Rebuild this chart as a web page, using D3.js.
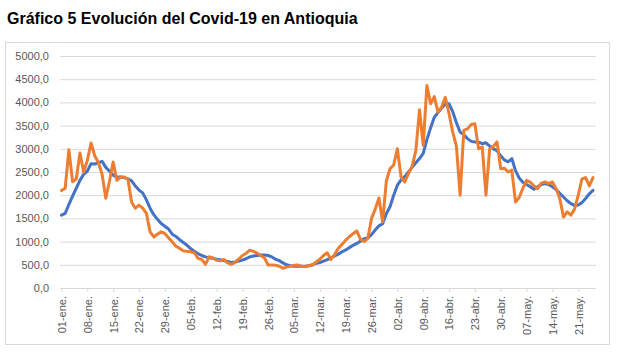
<!DOCTYPE html>
<html>
<head>
<meta charset="utf-8">
<script src="https://cdn.jsdelivr.net/npm/d3@7"></script>
<style>
  body { margin: 0; background: #fff; }
  svg { display: block; font-family: "Liberation Sans", Arial, sans-serif; }
</style>
</head>
<body>
<script>
// Daily series, Jan 1 to May 25 (one value per day)
const startDate = new Date(2021, 0, 1);

const promedio = [
  1570, 1610, 1800, 1980, 2150, 2320, 2450, 2520, 2680, 2670,
  2700, 2730, 2600, 2520, 2430, 2390, 2390, 2380, 2350, 2310,
  2200, 2110, 2050, 1900, 1720, 1580, 1480, 1390, 1330, 1270,
  1160, 1110, 1040, 980, 920, 850, 790, 740, 700, 670,
  650, 640, 620, 610, 590, 570, 550, 560, 580, 600,
  630, 670, 690, 700, 710, 710, 700, 670, 620, 590,
  540, 500, 480, 470, 470, 470, 470, 480, 500, 530,
  550, 580, 610, 650, 690, 730, 780, 820, 870, 920,
  960, 1010, 1060, 1080, 1150, 1250, 1340, 1385, 1600, 1750,
  2000, 2215, 2330, 2400, 2500, 2600, 2700, 2790, 2900, 3200,
  3450, 3680, 3780, 3880, 3960, 3970, 3800, 3560, 3360, 3300,
  3220, 3160, 3145, 3145, 3110, 3130, 3060, 3000, 2960, 2850,
  2760, 2720, 2790, 2530, 2370, 2280, 2230, 2180, 2130, 2180,
  2230, 2250, 2230, 2180, 2120, 2040, 1960, 1880, 1820, 1780,
  1790, 1840, 1930, 2030, 2105
];

const diarios = [
  2100, 2150, 2980, 2290, 2350, 2910, 2500, 2750, 3125, 2850,
  2700, 2450, 1935, 2300, 2715, 2320, 2390, 2390, 2340, 1850,
  1720, 1785, 1720, 1610, 1210, 1100, 1160, 1210, 1175, 1080,
  995, 900, 855, 800, 790, 780, 760, 640, 615, 510,
  675, 650, 600, 585, 615, 540, 510, 550, 620, 700,
  745, 815, 790, 750, 700, 645, 495, 495, 490, 470,
  425, 450, 470, 490, 495, 470, 460, 480, 495, 560,
  620, 700, 760, 615, 720, 855, 940, 1030, 1105, 1170,
  1230, 1050, 1000, 1070, 1500, 1700, 1940, 1425, 2300, 2570,
  2650, 3000, 2390, 2285, 2465, 2620, 2960, 3840, 3075, 4365,
  3970, 4125, 3790, 3900, 4110, 3755, 3360, 3050, 2000, 3395,
  3430, 3525, 3540, 3000, 3040, 2000, 3000, 3050, 3150, 2570,
  2580, 2500, 2540, 1855, 1950, 2150, 2320, 2280, 2200, 2140,
  2260, 2285, 2250, 2285, 2140, 1930, 1530, 1640, 1570, 1700,
  2000, 2350, 2380, 2200, 2380
];

const yTicks = [0, 500, 1000, 1500, 2000, 2500, 3000, 3500, 4000, 4500, 5000];
const meses = ["ene.", "feb.", "mar.", "abr.", "may.", "jun.", "jul.", "ago.", "sep.", "oct.", "nov.", "dic."];

const width = 618, height = 359;
const plotLeft = 60, plotRight = 596, plotTop = 56, plotBottom = 288;

const dates = promedio.map((d, i) => d3.timeDay.offset(startDate, i));
const tickDates = d3.range(0, dates.length, 7).map(i => dates[i]);

const svg = d3.select('body')
  .append('svg')
  .attr('width', width)
  .attr('height', height);

// chart area border
svg.append('rect')
  .attr('x', 5.5).attr('y', 42.5)
  .attr('width', 604).attr('height', 302)
  .attr('fill', '#fff')
  .attr('stroke', '#d9d9d9');

// title
svg.append('text')
  .attr('x', 7).attr('y', 23.5)
  .attr('font-size', 16)
  .attr('font-weight', 'bold')
  .attr('fill', '#000')
  .text('Gráfico 5 Evolución del Covid-19 en Antioquia');

const x = d3.scaleTime()
  .domain([dates[0], dates[dates.length - 1]])
  .range([plotLeft + 1.5, 593]);

const y = d3.scaleLinear()
  .domain([0, 5000])
  .range([plotBottom, plotTop]);

// y axis + gridlines
const yAxis = svg.append('g')
  .attr('transform', `translate(${plotLeft},0)`)
  .call(d3.axisLeft(y)
    .tickValues(yTicks)
    .tickSize(-(plotRight - plotLeft))
    .tickPadding(11)
    .tickFormat(d => d.toFixed(1).replace('.', ',')));
yAxis.select('.domain').remove();
yAxis.selectAll('line').attr('stroke', '#d9d9d9');
yAxis.selectAll('text')
  .attr('fill', '#595959')
  .attr('font-size', 11)
  .attr('font-family', '"Liberation Sans", Arial, sans-serif');

// x axis
const xAxis = svg.append('g')
  .attr('transform', `translate(0,${plotBottom})`)
  .call(d3.axisBottom(x)
    .tickValues(tickDates)
    .tickSize(4)
    .tickSizeOuter(0)
    .tickFormat(d => d3.timeFormat('%d')(d) + '-' + meses[d.getMonth()]));
xAxis.select('.domain')
  .attr('d', `M${plotLeft},0.5H${plotRight}`)
  .attr('stroke', '#d9d9d9');
xAxis.selectAll('line').attr('stroke', '#d9d9d9');
xAxis.selectAll('text')
  .attr('transform', 'rotate(-90)')
  .attr('x', -8)
  .attr('y', 0)
  .attr('dy', '0.35em')
  .attr('text-anchor', 'end')
  .attr('fill', '#595959')
  .attr('font-size', 11)
  .attr('font-family', '"Liberation Sans", Arial, sans-serif');

// lines
const line = d3.line()
  .x((d, i) => x(dates[i]))
  .y(d => y(d));

svg.append('path')
  .datum(promedio)
  .attr('fill', 'none')
  .attr('stroke', '#4472c4')
  .attr('stroke-width', 3)
  .attr('stroke-linejoin', 'round')
  .attr('stroke-linecap', 'round')
  .attr('d', line);

svg.append('path')
  .datum(diarios)
  .attr('fill', 'none')
  .attr('stroke', '#ed7d31')
  .attr('stroke-width', 3)
  .attr('stroke-linejoin', 'round')
  .attr('stroke-linecap', 'round')
  .attr('d', line);
</script>
</body>
</html>
